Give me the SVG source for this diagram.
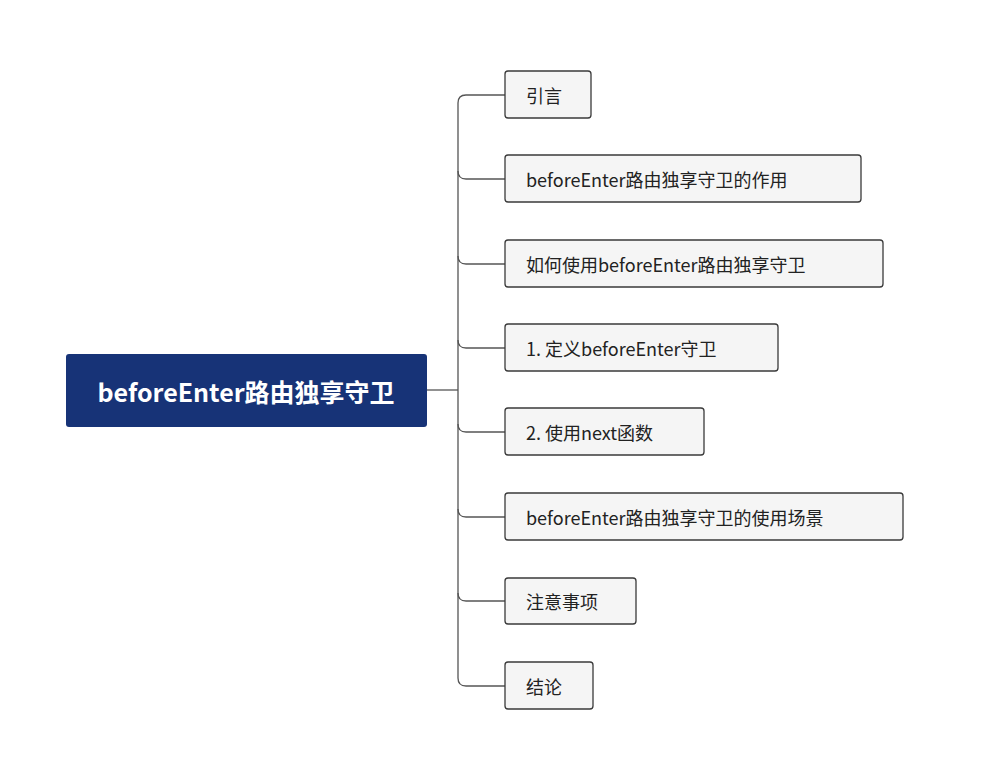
<svg xmlns="http://www.w3.org/2000/svg" width="994" height="777" viewBox="0 0 994 777">
<style>
.n rect{fill:#f5f5f5;stroke:#3a3a3a;stroke-width:1.3}
.n text{font-family:"Noto Sans CJK SC","Noto Sans",sans-serif;font-size:18px;fill:#222;dominant-baseline:central}
.c{fill:none;stroke:#555;stroke-width:1.3}
</style>
<rect width="994" height="777" fill="#fff"/>
<g id="connectors">
<path class="c" d="M427,390 H458"/>
<path class="c" d="M505,95 H466 Q458,95 458,103 V678 Q458,686 466,686 H505"/>
<path class="c" d="M458,171 Q458,179 466,179 H505"/>
<path class="c" d="M458,256 Q458,264 466,264 H505"/>
<path class="c" d="M458,340 Q458,348 466,348 H505"/>
<path class="c" d="M458,424 Q458,432 466,432 H505"/>
<path class="c" d="M458,509 Q458,517 466,517 H505"/>
<path class="c" d="M458,593 Q458,601 466,601 H505"/>
</g>
<g id="root"><rect x="66" y="354" width="361" height="73" rx="3" fill="#173377"/><text x="246" y="391" text-anchor="middle" font-family="Noto Sans CJK SC,Noto Sans,sans-serif" font-size="25" font-weight="bold" fill="#fff" dominant-baseline="central">beforeEnter路由独享守卫</text></g>
<g id="n1" class="n"><rect x="505" y="71" width="86" height="47" rx="3"/><text x="526" y="95">引言</text></g>
<g id="n2" class="n"><rect x="505" y="155" width="356" height="47" rx="3"/><text x="526" y="179">beforeEnter路由独享守卫的作用</text></g>
<g id="n3" class="n"><rect x="505" y="240" width="378" height="47" rx="3"/><text x="526" y="264">如何使用beforeEnter路由独享守卫</text></g>
<g id="n4" class="n"><rect x="505" y="324" width="273" height="47" rx="3"/><text x="526" y="348">1. 定义beforeEnter守卫</text></g>
<g id="n5" class="n"><rect x="505" y="408" width="199" height="47" rx="3"/><text x="526" y="432">2. 使用next函数</text></g>
<g id="n6" class="n"><rect x="505" y="493" width="398" height="47" rx="3"/><text x="526" y="517">beforeEnter路由独享守卫的使用场景</text></g>
<g id="n7" class="n"><rect x="505" y="578" width="131" height="46" rx="3"/><text x="526" y="601">注意事项</text></g>
<g id="n8" class="n"><rect x="505" y="662" width="88" height="47" rx="3"/><text x="526" y="686">结论</text></g>
</svg>
